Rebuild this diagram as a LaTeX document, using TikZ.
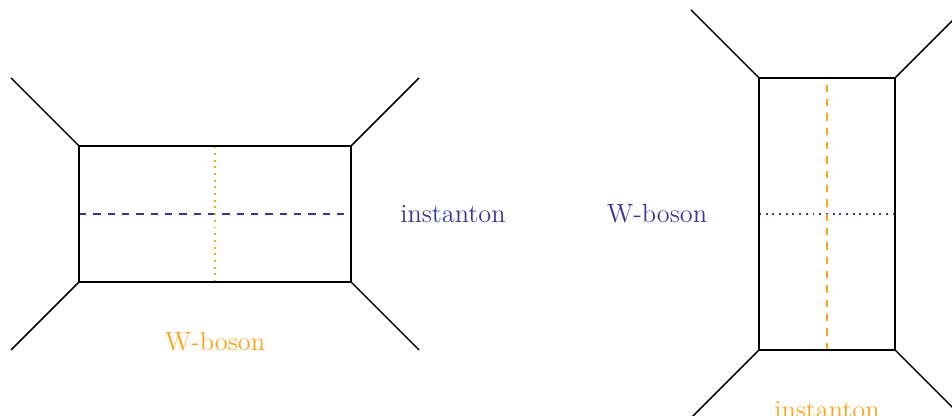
\documentclass[tikz,border=0pt]{standalone}
\definecolor{wblue}{RGB}{55,55,155}
\definecolor{worange}{RGB}{255,165,20}
\begin{document}
\begin{tikzpicture}[
  edge/.style={black, line width=0.6pt},
  prop/.style={line width=0.8pt},
  lbl/.style={font=\fontsize{11}{13}\selectfont, inner sep=0pt}
]
\useasboundingbox (-1.1618,-1.9706) rectangle (12.8382,4.1471);
\clip (-1.1618,-1.9706) rectangle (12.8382,4.1471);
% left web
\coordinate (a1) at (0,0); \coordinate (a2) at (4,0);
\coordinate (a3) at (4,2); \coordinate (a4) at (0,2);
\coordinate (la1) at (-1,-1); \coordinate (la2) at (5,-1);
\coordinate (la3) at (5,3); \coordinate (la4) at (-1,3);
\coordinate (ml) at (0,1); \coordinate (mr) at (4,1);
\coordinate (mb) at (2,0); \coordinate (mt) at (2,2);
\draw[wblue, dashed, prop] (ml) -- (mr);
\draw[worange, dotted, prop] (mb) -- (mt);
\draw[edge] (a1) -- (a2) -- (a3) -- (a4) -- cycle;
\draw[edge] (a1) -- (la1); \draw[edge] (a2) -- (la2);
\draw[edge] (a3) -- (la3); \draw[edge] (a4) -- (la4);
\node[lbl, text=wblue] (inst1) at (5.5,1) {instanton};
\node[lbl, text=worange] (wb1) at (2,-0.88) {W-boson};
% right web
\coordinate (b1) at (10,-1); \coordinate (b2) at (12,-1);
\coordinate (b3) at (12,3); \coordinate (b4) at (10,3);
\coordinate (lb1) at (9,-2); \coordinate (lb2) at (13,-2);
\coordinate (lb3) at (13,4); \coordinate (lb4) at (9,4);
\coordinate (nl) at (10,1); \coordinate (nr) at (12,1);
\coordinate (nb) at (11,-1); \coordinate (nt) at (11,3);
\draw[wblue, dotted, prop] (nl) -- (nr);
\draw[worange, dashed, prop] (nb) -- (nt);
\draw[edge] (b1) -- (b2) -- (b3) -- (b4) -- cycle;
\draw[edge] (b1) -- (lb1); \draw[edge] (b2) -- (lb2);
\draw[edge] (b3) -- (lb3); \draw[edge] (b4) -- (lb4);
\node[lbl, text=wblue] (wb2) at (8.5,1) {W-boson};
\node[lbl, text=worange] (inst2) at (11,-1.88) {instanton};
\end{tikzpicture}
\end{document}
